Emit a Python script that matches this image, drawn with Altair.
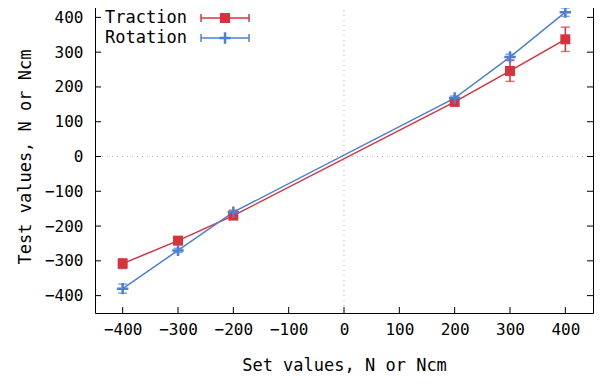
import altair as alt
import pandas as pd

set_values = [-400, -300, -200, 200, 300, 400]
traction = [-308, -242, -170, 157, 246, 337]
traction_err = [14, 8, 6, 6, 30, 35]
rotation = [-380, -270, -160, 168, 286, 415]
rotation_err = [13, 6, 6, 6, 8, 12]
series_names = ["Traction", "Rotation"]
series_colors = ["#d8323c", "#4c7fd6"]
tick_values = [-400, -300, -200, -100, 0, 100, 200, 300, 400]
x_title = "Set values, N or Ncm"
y_title = "Test values, N or Ncm"

W, H = 498, 313
FONT = "DejaVu Sans Mono"

rows = []
for s, vals, errs in [("Traction", traction, traction_err), ("Rotation", rotation, rotation_err)]:
    for x, v, e in zip(set_values, vals, errs):
        rows.append({"set": x, "value": v, "lo": v - e, "hi": v + e, "series": s})
df = pd.DataFrame(rows)
ticks_df = pd.DataFrame({"t": tick_values})

xs = alt.Scale(domain=[-450, 450], nice=False, zero=False)
ys = alt.Scale(domain=[-450, 450], nice=False, zero=False)
xaxis = alt.Axis(values=tick_values, ticks=False, domain=False, grid=False,
                 labelPadding=8, title=x_title, titlePadding=20)
yaxis = alt.Axis(values=tick_values, ticks=False, domain=False, grid=False,
                 labelPadding=12, title=y_title, titlePadding=10)


def X(f):
    return alt.X(f, type="quantitative", scale=xs, axis=xaxis)


def Y(f):
    return alt.Y(f, type="quantitative", scale=ys, axis=yaxis)


col = alt.Color("series:N", scale=alt.Scale(domain=series_names, range=series_colors), legend=None)

base = alt.Chart(df).encode(x=X("set"), color=col)

# inward ticks on all four sides
tk = alt.Chart(ticks_df)
tick_bottom = tk.mark_rule(color="black", strokeWidth=1).encode(
    x=X("t"), y=alt.value(H), y2=alt.value(H - 6))
tick_top = tk.mark_rule(color="black", strokeWidth=1).encode(
    x=X("t"), y=alt.value(0), y2=alt.value(6))
tick_left = tk.mark_rule(color="black", strokeWidth=1).encode(
    y=Y("t"), x=alt.value(0), x2=alt.value(6))
tick_right = tk.mark_rule(color="black", strokeWidth=1).encode(
    y=Y("t"), x=alt.value(W), x2=alt.value(W - 6))

# zero axes
zdf = pd.DataFrame({"z": [0]})
zero_x = alt.Chart(zdf).mark_rule(color="#b0b0b0", strokeDash=[1, 4], strokeWidth=1).encode(x=X("z"))
zero_y = alt.Chart(zdf).mark_rule(color="#b0b0b0", strokeDash=[1, 4], strokeWidth=1).encode(y=Y("z"))

lines = base.mark_line(strokeWidth=1.5).encode(y=Y("value"), detail="series:N")
err = base.mark_rule(strokeWidth=1.5).encode(y=Y("lo"), y2="hi:Q")
cap_lo = base.mark_tick(orient="horizontal", size=9, thickness=1.5).encode(y=Y("lo"))
cap_hi = base.mark_tick(orient="horizontal", size=9, thickness=1.5).encode(y=Y("hi"))

pts_t = alt.Chart(df[df.series == "Traction"]).mark_point(
    shape="square", filled=True, size=100, opacity=1, color=series_colors[0]).encode(
    x=X("set"), y=Y("value"))
pts_r = alt.Chart(df[df.series == "Rotation"]).mark_point(
    shape="M-1,0H1M0,-1V1", filled=False, size=130, strokeWidth=2.5, opacity=1,
    color=series_colors[1]).encode(x=X("set"), y=Y("value"))


# custom legend (text left, key right)
def legend_row(i):
    name, c = series_names[i], series_colors[i]
    yy = 18 + 20 * i
    ld = alt.Chart(pd.DataFrame({"name": [name]}))
    txt = ld.mark_text(align="left", baseline="middle", font=FONT, fontSize=17, color="black").encode(
        text="name:N", x=alt.value(10), y=alt.value(yy))
    ln = ld.mark_rule(color=c, strokeWidth=1.5).encode(x=alt.value(106), x2=alt.value(154), y=alt.value(yy))
    c1 = ld.mark_rule(color=c, strokeWidth=1.5).encode(x=alt.value(106), y=alt.value(yy - 4), y2=alt.value(yy + 4))
    c2 = ld.mark_rule(color=c, strokeWidth=1.5).encode(x=alt.value(154), y=alt.value(yy - 4), y2=alt.value(yy + 4))
    if i == 0:
        mk = ld.mark_point(shape="square", filled=True, size=100, opacity=1, color=c).encode(
            x=alt.value(130), y=alt.value(yy))
    else:
        mk = ld.mark_point(shape="M-1,0H1M0,-1V1", filled=False, size=130, strokeWidth=2.5,
                           opacity=1, color=c).encode(x=alt.value(130), y=alt.value(yy))
    return [ln, c1, c2, mk, txt]


layers = [zero_x, zero_y, tick_bottom, tick_top, tick_left, tick_right,
          lines, err, cap_lo, cap_hi, pts_t, pts_r] + legend_row(0) + legend_row(1)

chart = alt.layer(*layers).properties(
    width=W, height=H,
    background="white",
    autosize=alt.AutoSizeParams(type="none"),
    padding={"left": 87, "top": -8, "right": 4, "bottom": 63},
).configure_view(stroke="black", strokeWidth=1).configure_axis(
    labelFont=FONT, labelFontSize=16, labelColor="black",
    titleFont=FONT, titleFontSize=17, titleFontWeight="normal", titleColor="black",
)

chart.save("out.html", embed_options={"renderer": "svg", "actions": False})
